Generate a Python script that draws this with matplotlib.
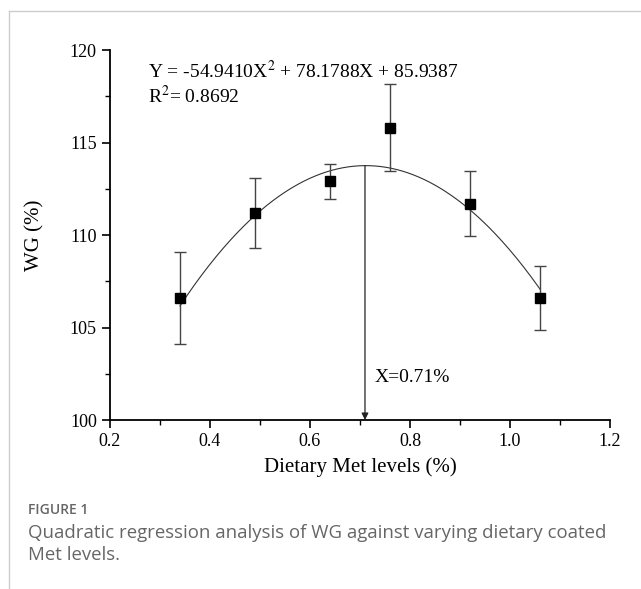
import numpy as np
import matplotlib
matplotlib.use("Agg")
import matplotlib.pyplot as plt
from matplotlib.ticker import MultipleLocator
from matplotlib.lines import Line2D

met = [0.34, 0.49, 0.64, 0.76, 0.92, 1.06]
wg = [106.6, 111.2, 112.9, 115.8, 111.7, 106.6]
wg_err = [2.5, 1.9, 0.95, 2.35, 1.75, 1.75]

# quadratic fit coefficients
a, b, c = -54.9410, 78.1788, 85.9387
x_opt = 0.71

plt.rcParams['font.family'] = ['Liberation Serif', 'DejaVu Serif']
plt.rcParams['mathtext.fontset'] = 'stix'

fig = plt.figure(figsize=(6.41, 5.89), dpi=100)
ax = fig.add_axes([0.1716, 0.2869, 0.78, 0.6282])

xs = np.linspace(min(met), max(met), 200)
ax.plot(xs, a * xs**2 + b * xs + c, color='#333333', lw=0.8)

ax.errorbar(met, wg, yerr=wg_err, fmt='s', color='black', ms=7,
            ecolor='#444444', elinewidth=1, capsize=4, capthick=1)

y_peak = a * x_opt**2 + b * x_opt + c
ax.annotate('', xy=(x_opt, 100), xytext=(x_opt, y_peak),
            arrowprops=dict(arrowstyle='-|>', color='#222222', lw=0.9,
                            mutation_scale=10, shrinkA=0, shrinkB=0))
ax.text(0.73, 102.3, 'X=0.71%', fontsize=14, va='center')

ax.text(0.277, 118.85, r'Y = -54.9410X$^2$ + 78.1788X + 85.9387', fontsize=14,
        va='center')
ax.text(0.277, 117.5, r'R$^2$= 0.8692', fontsize=14, va='center')

ax.set_xlim(0.2, 1.2)
ax.set_ylim(100, 120)
ax.xaxis.set_major_locator(MultipleLocator(0.2))
ax.xaxis.set_minor_locator(MultipleLocator(0.1))
ax.yaxis.set_major_locator(MultipleLocator(5))
ax.yaxis.set_minor_locator(MultipleLocator(2.5))
ax.set_xticklabels(['%.1f' % v for v in ax.get_xticks()])
ax.tick_params(which='major', direction='out', length=6, width=1.2, labelsize=13)
ax.tick_params(which='minor', direction='out', length=3.5, width=1.0)

for s in ['top', 'right']:
    ax.spines[s].set_visible(False)
for s in ['left', 'bottom']:
    ax.spines[s].set_linewidth(1.3)

ax.set_xlabel('Dietary Met levels (%)', fontsize=15, labelpad=5)
ax.set_ylabel('WG (%)', fontsize=15, labelpad=18)

# page frame and caption
fig.add_artist(Line2D([9/641, 1], [1 - 11/589, 1 - 11/589], color='#cccccc', lw=1))
fig.add_artist(Line2D([9/641, 9/641], [0, 1 - 11/589], color='#cccccc', lw=1))
fig.text(28/641, 1 - 510/589, 'FIGURE 1', fontsize=10, color='#666666',
         family=['Open Sans', 'DejaVu Sans'], fontweight='semibold', va='center')
fig.text(28/641, 1 - 544/589,
         'Quadratic regression analysis of WG against varying dietary coated\nMet levels.',
         fontsize=13.4, color='#666666', family=['Open Sans', 'DejaVu Sans'],
         va='center', linespacing=1.3)

fig.savefig('out.png', dpi=100)
